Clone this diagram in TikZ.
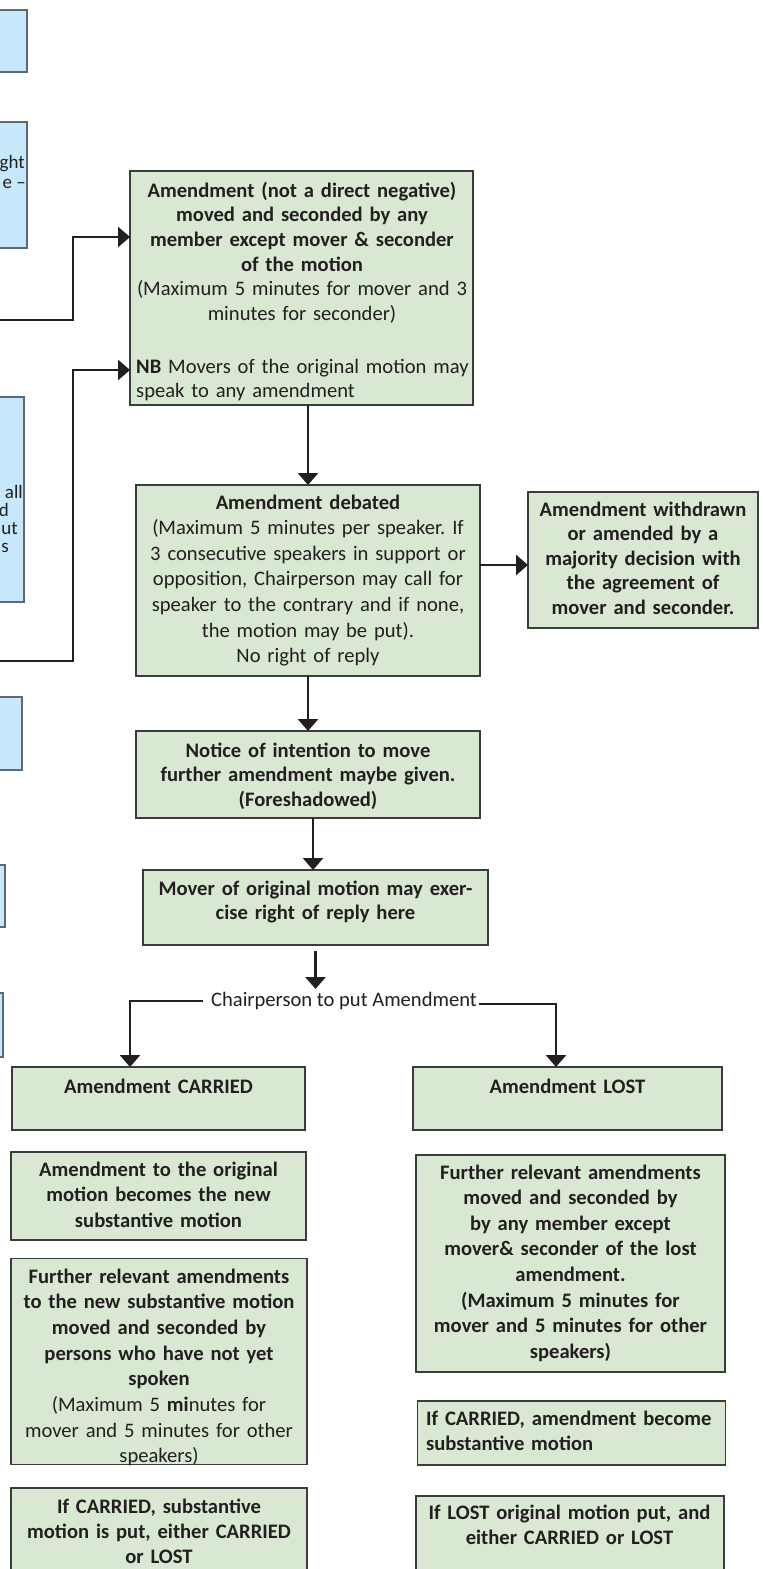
\documentclass[tikz,border=0pt]{standalone}
\usepackage{fontspec}
\setmainfont{Carlito}
\usetikzlibrary{arrows.meta,calc}
\definecolor{gfill}{RGB}{216,232,210}
\definecolor{bfill}{RGB}{199,232,250}
\definecolor{ink}{RGB}{35,31,32}
\definecolor{gline}{RGB}{60,60,60}
\definecolor{bline}{RGB}{95,105,115}
\newcommand{\fsz}[1]{\fontsize{20.6pt}{#1pt}\selectfont\frenchspacing}
\begin{document}
\begin{tikzpicture}[x=1pt,y=-1pt,
  gbox/.style={draw=gline, line width=1.1pt, fill=gfill, inner sep=0pt, outer sep=0pt},
  bbox/.style={draw=bline, line width=1.1pt, fill=bfill, inner sep=0pt, outer sep=0pt},
  txt/.style={inner sep=0pt, text=ink, align=center, text width=#1},
  ltxt/.style={inner sep=0pt, text=ink, align=left, text width=#1},
  btxt/.style={inner sep=0pt, text=ink, font=\fontsize{19}{20}\selectfont, anchor=base east},
  arr/.style={draw=ink, line width=2.8pt, -{Triangle[width=20pt,length=12pt]}}
]
\useasboundingbox (0,0) rectangle (763,1569);
\clip (0,0) rectangle (763,1569);

% blue boxes (cut off at the left edge)
\node[bbox, minimum width=87pt, minimum height=62pt] (b1) at (-16.5,41) {};
\node[bbox, minimum width=87pt, minimum height=126pt] (b2) at (-16.5,185) {};
\node[bbox, minimum width=84pt, minimum height=205pt] (b3) at (-18,499.5) {};
\node[bbox, minimum width=82pt, minimum height=73pt] (b4) at (-19,733.5) {};
\node[bbox, minimum width=65pt, minimum height=62pt] (b5) at (-27.5,896) {};
\node[bbox, minimum width=63pt, minimum height=64pt] (b6) at (-28.5,1025) {};
\node[btxt] (b2a) at (25,168) {ght};
\node[btxt] (b2b) at (26,188) {e –};
\node[btxt] (b3a) at (23,498) {all};
\node[btxt] (b3b) at (9,516) {d};
\node[btxt] (b3c) at (18,534) {ut};
\node[btxt] (b3d) at (9,552) {s};

% green boxes
\node[gbox, minimum width=343pt, minimum height=234pt] (A) at (301.5,288) {};
\node[gbox, minimum width=344pt, minimum height=191pt] (B) at (308,580.5) {};
\node[gbox, minimum width=230pt, minimum height=136pt] (C) at (643,560) {};
\node[gbox, minimum width=344pt, minimum height=87pt] (D) at (308,774.5) {};
\node[gbox, minimum width=345pt, minimum height=75pt] (E) at (315.5,907.5) {};
\node[gbox, minimum width=293pt, minimum height=63pt] (F) at (158.5,1098.5) {};
\node[gbox, minimum width=309pt, minimum height=63pt] (G) at (567.5,1098.5) {};
\node[gbox, minimum width=295pt, minimum height=88pt] (H) at (158.5,1196) {};
\node[gbox, minimum width=296pt, minimum height=206pt] (I) at (159,1361.5) {};
\node[gbox, minimum width=296pt, minimum height=123pt] (J) at (159,1549.5) {};
\node[gbox, minimum width=309pt, minimum height=217pt] (K) at (570.5,1263.5) {};
\node[gbox, minimum width=308pt, minimum height=64pt] (L) at (571.5,1433) {};
\node[gbox, minimum width=308pt, minimum height=115pt] (M) at (570,1553.5) {};

% texts
\node[txt=400pt, anchor=base, font=\fsz{24.7}] (At) at (302,197) {\textbf{Amendment (not a direct negative)\\moved and seconded by any\\member except mover \& seconder\\of the motion}\\(Maximum 5 minutes for mover and 3\\minutes for seconder)};
\node[ltxt=345pt, anchor=base west, font=\fsz{24.7}] (An) at (136,373) {\textbf{NB} Movers of the original motion may\\speak to any amendment};
\node[txt=400pt, anchor=base, font=\fsz{25.6}] (Bt) at (308,509) {\textbf{Amendment debated}\\(Maximum 5 minutes per speaker. If\\3 consecutive speakers in support or\\opposition, Chairperson may call for\\speaker to the contrary and if none,\\the motion may be put).\\No right of reply};
\node[txt=260pt, anchor=base, font=\fsz{24.5}] (Ct) at (643,516) {\textbf{Amendment withdrawn\\or amended by a\\majority decision with\\the agreement of\\mover and seconder.}};
\node[txt=400pt, anchor=base, font=\fsz{24.5}] (Dt) at (308,757) {\textbf{Notice of intention to move\\further amendment maybe given.\\(Foreshadowed)}};
\node[txt=400pt, anchor=base, font=\fsz{24.5}] (Et) at (315.5,895) {\textbf{Mover of original motion may exer-\\cise right of reply here}};
\node[inner sep=0pt, text=ink, font=\fsz{24.5}] (ch) at (344,1001) {Chairperson to put Amendment};
\node[txt=300pt, anchor=base, font=\fsz{24.5}] (Ft) at (158.5,1093) {\textbf{Amendment CARRIED}};
\node[txt=300pt, anchor=base, font=\fsz{24.5}] (Gt) at (567.5,1093) {\textbf{Amendment LOST}};
\node[txt=320pt, anchor=base, font=\fsz{25.5}] (Ht) at (158.5,1176) {\textbf{Amendment to the original\\motion becomes the new\\substantive motion}};
\node[txt=320pt, anchor=base, font=\fsz{25.7}] (It) at (159,1283) {\textbf{Further relevant amendments\\to the new substantive motion\\moved and seconded by\\persons who have not yet\\spoken}\\(Maximum 5 \textbf{mi}nutes for\\mover and 5 minutes for other\\speakers)};
\node[txt=320pt, anchor=base, font=\fsz{25}] (Jt) at (159,1513) {\textbf{If CARRIED, substantive\\motion is put, either CARRIED\\or LOST}};
\node[txt=330pt, anchor=base, font=\fsz{25.6}] (Kt) at (570.5,1179) {\textbf{Further relevant amendments\\moved and seconded by\\by any member except\\mover\& seconder of the lost\\amendment.\\(Maximum 5 minutes for\\mover and 5 minutes for other\\speakers)}};
\node[ltxt=300pt, anchor=base west, font=\fsz{25}] (Lt) at (426,1425) {\textbf{If CARRIED, amendment become\\substantive motion}};
\node[txt=330pt, anchor=base, font=\fsz{25}] (Mt) at (569.5,1519) {\textbf{If LOST original motion put, and\\either CARRIED or LOST}};

% connectors
\coordinate (s1) at (0,320);
\coordinate (s2) at (0,661);
\draw[arr] (s1) -- ++(73,0) |- ([yshift=51pt]A.west);
\draw[arr] (s2) -- ++(73,0) |- ([yshift=-82pt]A.west);
\draw[arr] (A.south -| B.north) -- (B.north);
\draw[arr] ([yshift=15.5pt]B.east) -- ([yshift=15.5pt]B.east -| C.west);
\draw[arr] (B.south) -- (D.north);
\draw[arr] ([xshift=5pt]D.south) -- ([xshift=5pt]D.south |- E.north);
\draw[arr] ([yshift=-6pt]E.south) -- ([yshift=3pt]E.south |- ch.north);
\draw[arr] ([xshift=-8pt]ch.west) -| ([xshift=-28.5pt]F.north);
\draw[arr] ([xshift=2pt,yshift=-3pt]ch.east) -| ([xshift=-11.5pt]G.north);
\end{tikzpicture}
\end{document}
